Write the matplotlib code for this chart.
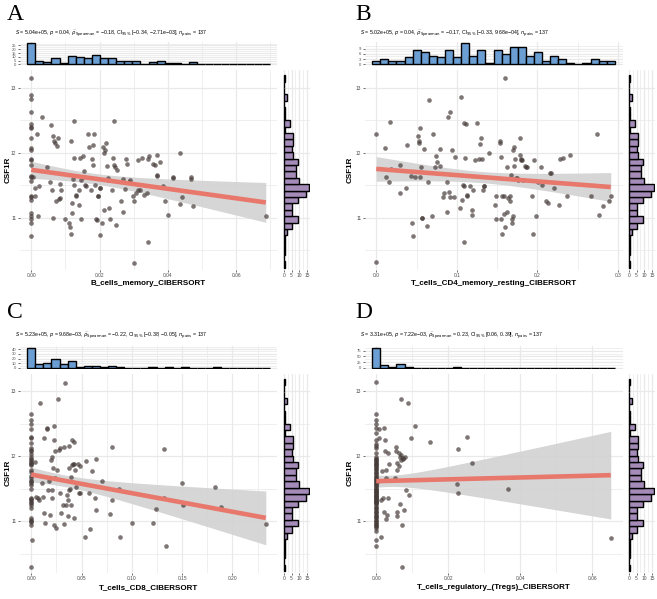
import numpy as np
import matplotlib
matplotlib.use("Agg")
import matplotlib.pyplot as plt

plt.rcParams["font.family"] = ["Liberation Sans", "DejaVu Sans"]
plt.rcParams["mathtext.fontset"] = "dejavusans"

# ---------------- data ----------------
# CSF1R histogram on the right of every panel (30 bins, low -> high)
csf1r_range = (10.28, 13.14)
csf1r_counts = [1, 0, 1, 1, 1, 2, 5, 9, 5, 5, 9, 14, 16, 10, 8, 8, 9, 6, 5, 6,
                6, 1, 4, 1, 1, 0, 2, 0, 0, 1]

# A: B_cells_memory_CIBERSORT
a_x0_y = [13.14, 12.89, 12.82, 12.63, 12.44, 12.40, 12.37, 12.22, 12.07, 12.04,
          11.90, 11.88, 11.81, 11.64, 11.62, 11.56, 11.33, 11.31, 11.27, 11.07,
          11.03, 10.97, 10.92, 10.71]
a_x = [0.0004, 0.001, 0.0012, 0.0017, 0.0019, 0.0024, 0.0031, 0.0046, 0.0054, 0.0058,
       0.006, 0.0063, 0.0065, 0.0067, 0.007, 0.0075, 0.0077, 0.0073, 0.008, 0.0083,
       0.0085, 0.0087, 0.01, 0.0112, 0.0114, 0.0116, 0.0119, 0.012, 0.0122, 0.0124,
       0.0126, 0.0126, 0.013, 0.0132, 0.0117, 0.0139, 0.0141, 0.0143, 0.0145, 0.0145,
       0.0151, 0.0153, 0.0155, 0.0158, 0.016, 0.0165, 0.0168, 0.0175, 0.0178, 0.018,
       0.0182, 0.0185, 0.0187, 0.019, 0.0194, 0.0195, 0.0197, 0.02, 0.02, 0.0202,
       0.0208, 0.021, 0.0212, 0.0214, 0.0217, 0.022, 0.0221, 0.0226, 0.0226, 0.0229,
       0.0231, 0.0236, 0.0239, 0.0241, 0.0243, 0.0246, 0.0249, 0.0251, 0.0263, 0.0268,
       0.027, 0.0275, 0.0278, 0.028, 0.0285, 0.029, 0.0298, 0.03, 0.0301, 0.0307,
       0.0314, 0.0314, 0.0319, 0.0324, 0.0329, 0.0339, 0.0341, 0.0343, 0.0346, 0.0358,
       0.0363, 0.0368, 0.0368, 0.0369, 0.0376, 0.0387, 0.0392, 0.0402, 0.0414, 0.0415,
       0.0436, 0.0436, 0.0441, 0.0467, 0.0467, 0.0475, 0.0687]
a_y = [11.62, 11.33, 11.45, 12.28, 11.03, 11.48, 12.55, 11.78, 11.55, 12.43,
       11.42, 10.99, 12.26, 12.18, 12.15, 12.10, 12.22, 11.25, 11.28, 11.30,
       11.51, 11.43, 10.97, 10.91, 10.86, 12.17, 11.22, 11.07, 11.59, 11.50,
       12.48, 11.91, 11.35, 11.33, 10.74, 11.42, 11.19, 11.91, 11.58, 10.97,
       11.63, 11.95, 11.71, 11.50, 11.48, 12.29, 12.09, 11.43, 11.90, 11.81,
       12.12, 12.28, 11.50, 10.97, 10.96, 11.33, 11.33, 11.45, 10.73, 11.45,
       10.91, 12.08, 11.99, 11.12, 12.04, 12.14, 11.79, 11.61, 11.58, 11.14,
       10.97, 11.43, 11.91, 12.48, 11.81, 11.78, 10.89, 11.73, 11.25, 11.59,
       11.09, 11.44, 11.90, 11.82, 11.55, 11.58, 11.33, 10.30, 11.26, 11.38,
       11.42, 11.89, 11.43, 11.91, 11.35, 11.37, 11.90, 10.62, 11.95, 11.82,
       11.81, 11.96, 11.66, 11.64, 11.86, 11.48, 11.25, 11.04, 11.61, 11.63,
       11.99, 11.21, 11.32, 11.59, 11.62, 11.17, 11.02]
a_top = [28, 5, 3, 9, 2, 11, 10, 9, 13, 8, 9, 4, 4, 5, 1, 3, 4, 2, 2, 1,
         3, 0, 0, 0, 0, 0, 0, 0, 0, 1]

# B: T_cells_CD4_memory_resting_CIBERSORT
b_x0_y = [12.29, 10.31]
b_x = [0.011, 0.0124, 0.0153, 0.0174, 0.0182, 0.0289, 0.0298, 0.0372, 0.038, 0.0426,
       0.0442, 0.0455, 0.0483, 0.0512, 0.0525, 0.0525, 0.0537, 0.0545, 0.0554, 0.0566,
       0.057, 0.0587, 0.0628, 0.0636, 0.0649, 0.069, 0.0702, 0.0731, 0.0744, 0.0752,
       0.0785, 0.0793, 0.0826, 0.0835, 0.0876, 0.0876, 0.0884, 0.0897, 0.0909, 0.0917,
       0.0938, 0.0967, 0.0979, 0.1033, 0.105, 0.1062, 0.1074, 0.1083, 0.1083, 0.1091,
       0.1103, 0.1116, 0.1124, 0.1132, 0.1157, 0.1186, 0.1186, 0.1198, 0.1227, 0.1248,
       0.1269, 0.1281, 0.1298, 0.131, 0.1322, 0.1331, 0.1339, 0.1393, 0.1475, 0.1483,
       0.1488, 0.1529, 0.1537, 0.1545, 0.1545, 0.1558, 0.1558, 0.1579, 0.1587, 0.16,
       0.16, 0.162, 0.1628, 0.164, 0.1653, 0.1661, 0.1669, 0.1682, 0.1682, 0.1694,
       0.1702, 0.1711, 0.1711, 0.1723, 0.1736, 0.1744, 0.1764, 0.1777, 0.1785, 0.1793,
       0.1793, 0.1806, 0.1826, 0.1847, 0.186, 0.1868, 0.193, 0.195, 0.1959, 0.1983,
       0.2012, 0.2041, 0.2054, 0.2107, 0.2136, 0.2157, 0.2165, 0.2207, 0.2273, 0.2281,
       0.2322, 0.2372, 0.2405, 0.2665, 0.2736, 0.2769, 0.281, 0.2893, 0.2909]
b_y = [12.07, 11.62, 11.54, 12.47, 11.75, 11.81, 11.37, 11.45, 12.12, 11.64,
       10.91, 10.71, 11.62, 12.26, 12.17, 12.14, 12.38, 11.62, 11.78, 10.99,
       11.00, 12.05, 10.87, 11.54, 12.81, 11.02, 12.29, 11.77, 11.94, 11.85,
       12.05, 11.80, 11.31, 11.37, 11.54, 11.09, 12.54, 11.40, 12.62, 11.32,
       12.04, 11.32, 11.93, 11.14, 12.86, 11.27, 11.50, 11.48, 10.62, 12.46,
       11.91, 12.44, 11.35, 11.33, 11.49, 11.12, 11.04, 11.43, 11.88, 12.45,
       11.90, 12.13, 12.23, 11.90, 11.43, 11.48, 11.49, 11.99, 11.19, 10.97,
       11.33, 12.15, 12.17, 11.93, 10.97, 11.33, 10.74, 11.06, 11.33, 10.86,
       13.14, 11.08, 11.78, 11.30, 11.33, 11.25, 11.65, 10.97, 10.92, 12.04,
       11.02, 12.08, 11.79, 11.90, 11.61, 11.61, 11.58, 12.23, 11.96, 11.90,
       11.88, 11.88, 11.58, 11.79, 11.78, 11.78, 11.33, 10.75, 11.89, 11.02,
       11.54, 11.78, 11.50, 11.25, 11.22, 11.68, 11.69, 11.45, 11.19, 11.90,
       11.91, 11.33, 11.96, 11.33, 12.29, 11.04, 11.17, 11.25, 11.33]
b_top = [2, 3, 2, 2, 4, 8, 7, 5, 4, 8, 4, 12, 5, 8, 1, 8, 6, 10, 10, 5,
         7, 2, 5, 3, 1, 0, 1, 3, 2, 2]

# C: T_cells_CD8_CIBERSORT
c_x0_y = [12.64, 12.56, 12.49, 12.41, 12.30, 12.27, 12.13, 12.09, 12.07, 11.98,
          11.94, 11.91, 11.86, 11.78, 11.69, 11.66, 11.61, 11.55, 11.32, 11.30,
          11.25, 11.04, 11.02, 10.94, 10.30, 11.90, 11.88, 11.95, 11.62, 11.58,
          11.35, 11.34, 11.28, 11.20, 11.00, 10.98, 12.03, 12.20, 11.75, 11.50]
c_x = [0.001, 0.004, 0.005, 0.0063, 0.0073, 0.0089, 0.0106, 0.0116, 0.0123, 0.0129,
       0.0139, 0.0156, 0.0156, 0.0162, 0.0172, 0.0189, 0.0195, 0.0202, 0.0205, 0.0209,
       0.0215, 0.0222, 0.0228, 0.0228, 0.0238, 0.0238, 0.0248, 0.0255, 0.0262, 0.0272,
       0.0281, 0.0288, 0.0295, 0.0315, 0.0321, 0.0328, 0.0338, 0.0348, 0.0354, 0.0361,
       0.0364, 0.0371, 0.0371, 0.0371, 0.0387, 0.0394, 0.0397, 0.0404, 0.0407, 0.0414,
       0.0421, 0.0421, 0.0427, 0.0437, 0.0447, 0.046, 0.047, 0.048, 0.0487, 0.0536,
       0.0546, 0.057, 0.0586, 0.0603, 0.0636, 0.0642, 0.0646, 0.0702, 0.0778, 0.0801,
       0.0801, 0.0877, 0.0884, 0.1003, 0.1215, 0.1242, 0.1321, 0.1321, 0.1341, 0.1497,
       0.1507, 0.1828, 0.1884, 0.2331]
c_y = [10.71, 11.91, 11.37, 11.35, 11.32, 12.81, 11.58, 11.37, 11.12, 12.27,
       10.97, 12.43, 12.41, 11.48, 11.61, 11.09, 11.94, 11.98, 11.48, 11.35,
       11.82, 12.24, 12.46, 10.94, 11.66, 12.07, 10.90, 11.78, 12.87, 12.09,
       12.13, 11.43, 11.13, 11.25, 12.14, 10.96, 13.13, 11.25, 11.40, 11.33,
       11.07, 12.15, 11.81, 11.48, 11.50, 11.68, 11.25, 12.24, 11.86, 11.87,
       11.87, 12.22, 11.04, 11.79, 11.53, 11.87, 11.43, 11.84, 11.43, 10.75,
       11.93, 11.43, 10.87, 11.77, 11.35, 11.96, 11.17, 11.62, 11.11, 11.32,
       12.14, 11.49, 10.75, 10.97, 10.97, 11.19, 12.11, 11.36, 10.62, 11.59,
       11.25, 11.52, 11.22, 10.96]
c_top = [43, 9, 11, 18, 9, 15, 2, 5, 5, 2, 4, 2, 1, 1, 0, 2, 0, 3, 0, 2,
         0, 0, 0, 2, 0, 0, 0, 0, 0, 1]

# D: T_cells_regulatory_(Tregs)_CIBERSORT
d_x0_y = [13.14, 12.64, 12.56, 12.49, 12.43, 12.36, 12.25, 12.18, 12.15, 12.12,
          11.45, 11.39, 11.36, 12.04, 11.32, 11.29, 11.98, 11.96, 11.95, 11.93,
          11.92, 11.90, 11.88, 11.87, 11.85, 11.84, 11.82, 11.80, 11.78, 11.76,
          11.74, 11.72, 11.70, 11.68, 11.66, 11.64, 11.63, 11.61, 11.60, 11.58,
          11.57, 11.55, 11.54, 11.52, 11.50, 11.49, 11.47, 11.46, 11.44, 11.43,
          11.41, 11.40, 11.38, 11.37, 11.35, 11.33, 11.31, 11.30, 11.28, 11.27,
          11.25, 11.22, 11.20, 11.18, 11.16, 11.14, 11.12, 11.10, 11.08, 11.06,
          11.04, 11.02, 11.00, 10.98, 10.96, 10.95, 10.93, 10.92, 10.90, 10.85,
          10.71, 10.62]
d_x = [0.0006, 0.0007, 0.0009, 0.0012, 0.0012, 0.0017, 0.0019, 0.0021, 0.0021, 0.0024,
       0.0024, 0.0026, 0.0026, 0.0028, 0.0031, 0.0034, 0.0034, 0.0036, 0.0052, 0.0054,
       0.0056, 0.0059, 0.0059, 0.0059, 0.0059, 0.0062, 0.0064, 0.0065, 0.0065, 0.0068,
       0.0068, 0.0068, 0.0071, 0.0071, 0.0073, 0.0075, 0.0078, 0.008, 0.0082, 0.0087,
       0.009, 0.0096, 0.0108, 0.015, 0.0225, 0.0227, 0.0227, 0.0252, 0.0266, 0.0365,
       0.0651]
d_y = [11.61, 12.41, 12.27, 11.33, 10.76, 11.77, 11.36, 12.43, 11.14, 12.24,
       12.07, 11.78, 11.66, 11.03, 11.09, 11.35, 12.05, 11.88, 11.66, 12.14,
       12.07, 11.89, 11.79, 11.07, 11.14, 12.04, 11.84, 11.98, 11.26, 12.87,
       12.02, 11.94, 10.94, 10.30, 11.95, 11.97, 11.17, 11.98, 11.48, 12.81,
       11.40, 12.28, 12.46, 12.22, 11.57, 12.11, 11.43, 12.29, 11.90, 11.50,
       10.74]
d_top = [88, 14, 3, 16, 6, 2, 0, 1, 0, 0, 3, 1, 1, 0, 0, 0, 1, 0, 0, 0,
         0, 0, 0, 0, 0, 0, 0, 0, 0, 1]

subtitles = {
    "A": r"$\mathit{S}$ = 5.04e+05, $\mathit{p}$ = 0.04, $\widehat{\rho}_{\mathrm{Spearman}}$ = −0.18, CI$_{95\%}$ [−0.34, −2.71e−03], $\mathit{n}_{\mathrm{pairs}}$ = 137",
    "B": r"$\mathit{S}$ = 5.02e+05, $\mathit{p}$ = 0.04, $\widehat{\rho}_{\mathrm{Spearman}}$ = −0.17, CI$_{95\%}$ [−0.33, 9.68e−04], $\mathit{n}_{\mathrm{pairs}}$ = 137",
    "C": r"$\mathit{S}$ = 5.23e+05, $\mathit{p}$ = 9.68e−03, $\widehat{\rho}_{\mathrm{Spearman}}$ = −0.22, CI$_{95\%}$ [−0.38, −0.05], $\mathit{n}_{\mathrm{pairs}}$ = 137",
    "D": r"$\mathit{S}$ = 3.31e+05, $\mathit{p}$ = 7.22e−03, $\widehat{\rho}_{\mathrm{Spearman}}$ = 0.23, CI$_{95\%}$ [0.06, 0.39], $\mathit{n}_{\mathrm{pairs}}$ = 137",
}

# ---------------- styling ----------------
W, H = 657, 599
POINT = "#463c3a"
LINE = "#e8776c"
BAND = "#d2d2d2"
BLUE = "#6b9fd3"
PURPLE = "#a48bb8"
GRID = "#e9e9e9"
TICK = "#4d4d4d"

fig = plt.figure(figsize=(W / 100, H / 100), dpi=100)
fig.patch.set_facecolor("white")


def ax_px(x0, y0, x1, y1):
    return fig.add_axes([x0 / W, 1 - y1 / H, (x1 - x0) / W, (y1 - y0) / H])


def base_style(ax):
    for s in ax.spines.values():
        s.set_visible(False)
    ax.set_axisbelow(True)
    ax.grid(which="major", color=GRID, lw=0.9)
    ax.grid(which="minor", color=GRID, lw=0.5)
    ax.tick_params(which="both", length=0, labelsize=3.5, labelcolor=TICK, pad=1)
    ax.tick_params(which="major", length=1.2, width=0.5, color="#333333")


COLS = {"left": dict(main=(19.5, 277.5), rh=(282.5, 310), ylab=5, letter=7, sub=15),
        "right": dict(main=(364.5, 622.5), rh=(627.5, 655), ylab=347, letter=355, sub=360)}
ROWS = {"top": dict(th=(41.5, 65.5), main=(70, 269.5), sub=34, letter=15),
        "bottom": dict(th=(346, 369), main=(373.5, 573), sub=335.5, letter=313)}
YLIM = (10.2, 13.27)


def panel(col, row, letter, x0_y, xs, ys, top_counts, top_ticks,
          xticks, xticklabels, xlabel):
    c, r = COLS[col], ROWS[row]
    x = np.concatenate([np.zeros(len(x0_y)), np.array(xs)])
    y = np.concatenate([np.array(x0_y), np.array(ys)])
    lo, hi = x.min(), x.max()
    xlim = (lo - 0.05 * (hi - lo), hi + 0.05 * (hi - lo))

    # main scatter with linear fit and 95% band
    ax = ax_px(c["main"][0], r["main"][0], c["main"][1], r["main"][1])
    base_style(ax)
    xx = np.linspace(lo, hi, 100)
    b, a = np.polyfit(x, y, 1)
    n = len(x)
    s = np.sqrt(np.sum((y - (a + b * x)) ** 2) / (n - 2))
    se = s * np.sqrt(1 / n + (xx - x.mean()) ** 2 / np.sum((x - x.mean()) ** 2))
    yh = a + b * xx
    ax.fill_between(xx, yh - 1.977 * se, yh + 1.977 * se, color=BAND, alpha=0.9,
                    lw=0, zorder=2)
    ax.scatter(x, y, s=11, color=POINT, alpha=0.7, lw=0, zorder=3)
    ax.plot(xx, yh, color=LINE, lw=3.3, zorder=4, solid_capstyle="butt")
    ax.set_xlim(xlim)
    ax.set_ylim(YLIM)
    ax.set_xticks(xticks)
    ax.set_xticklabels(xticklabels)
    step = xticks[1] - xticks[0]
    ax.set_xticks(np.arange(xticks[0] + step / 2, xlim[1], step), minor=True)
    ax.set_yticks([11, 12, 13])
    ax.set_yticks([10.5, 11.5, 12.5], minor=True)
    ax.set_xlabel(xlabel, fontsize=5.8, fontweight="bold", labelpad=2)
    fig.text(c["ylab"] / W, 1 - (r["main"][0] + r["main"][1]) / 2 / H, "CSF1R",
             rotation=90, fontsize=5.8, fontweight="bold", ha="left", va="center")

    # top histogram
    th = ax_px(c["main"][0], r["th"][0], c["main"][1], r["th"][1])
    base_style(th)
    centers = np.linspace(lo, hi, len(top_counts))
    bw = centers[1] - centers[0]
    th.bar(centers, top_counts, width=bw, color=BLUE, edgecolor="black", lw=1.0,
           zorder=3)
    th.set_xlim(xlim)
    mx = max(top_counts)
    th.set_ylim(-0.05 * mx, 1.08 * mx)
    th.set_xticks(xticks)
    th.set_xticks(np.arange(xticks[0] + step / 2, xlim[1], step), minor=True)
    th.set_xticklabels([])
    th.tick_params(axis="x", which="major", length=0)
    th.set_yticks(top_ticks)
    tstep = top_ticks[1] - top_ticks[0]
    th.set_yticks(np.arange(tstep / 2, 1.08 * mx, tstep), minor=True)
    th.tick_params(axis="y", labelsize=3.0)

    # right histogram
    rh = ax_px(c["rh"][0], r["main"][0], c["rh"][1], r["main"][1])
    base_style(rh)
    yc = np.linspace(csf1r_range[0], csf1r_range[1], len(csf1r_counts))
    rh.barh(yc, csf1r_counts, height=yc[1] - yc[0], color=PURPLE, edgecolor="black",
            lw=1.0, zorder=3)
    rh.set_ylim(YLIM)
    mr = max(csf1r_counts)
    rh.set_xlim(-0.05 * mr, 1.05 * mr)
    rh.set_xticks([0, 5, 10, 15])
    rh.set_xticks([2.5, 7.5, 12.5], minor=True)
    rh.set_yticks([11, 12, 13])
    rh.set_yticks([10.5, 11.5, 12.5], minor=True)
    rh.set_yticklabels([])
    rh.tick_params(axis="y", which="major", length=0)

    # header
    fig.text(c["letter"] / W, 1 - r["letter"] / H, letter, fontsize=17,
             family=["Liberation Serif", "DejaVu Serif"], ha="left", va="center")
    fig.text(c["sub"] / W, 1 - r["sub"] / H, subtitles[letter], fontsize=3.8,
             ha="left", va="center")


panel("left", "top", "A", a_x0_y, a_x, a_y, a_top, [0, 5, 10, 15, 20, 25],
      [0.0, 0.02, 0.04, 0.06], ["0.00", "0.02", "0.04", "0.06"],
      "B_cells_memory_CIBERSORT")
panel("right", "top", "B", b_x0_y, b_x, b_y, b_top, [0, 3, 6, 9],
      [0.0, 0.1, 0.2, 0.3], ["0.0", "0.1", "0.2", "0.3"],
      "T_cells_CD4_memory_resting_CIBERSORT")
panel("left", "bottom", "C", c_x0_y, c_x, c_y, c_top, [0, 10, 20, 30, 40],
      [0.0, 0.05, 0.10, 0.15, 0.20], ["0.00", "0.05", "0.10", "0.15", "0.20"],
      "T_cells_CD8_CIBERSORT")
panel("right", "bottom", "D", d_x0_y, d_x, d_y, d_top, [0, 25, 50, 75],
      [0.0, 0.02, 0.04, 0.06], ["0.00", "0.02", "0.04", "0.06"],
      "T_cells_regulatory_(Tregs)_CIBERSORT")

fig.savefig("out.png", dpi=100, facecolor="white")
